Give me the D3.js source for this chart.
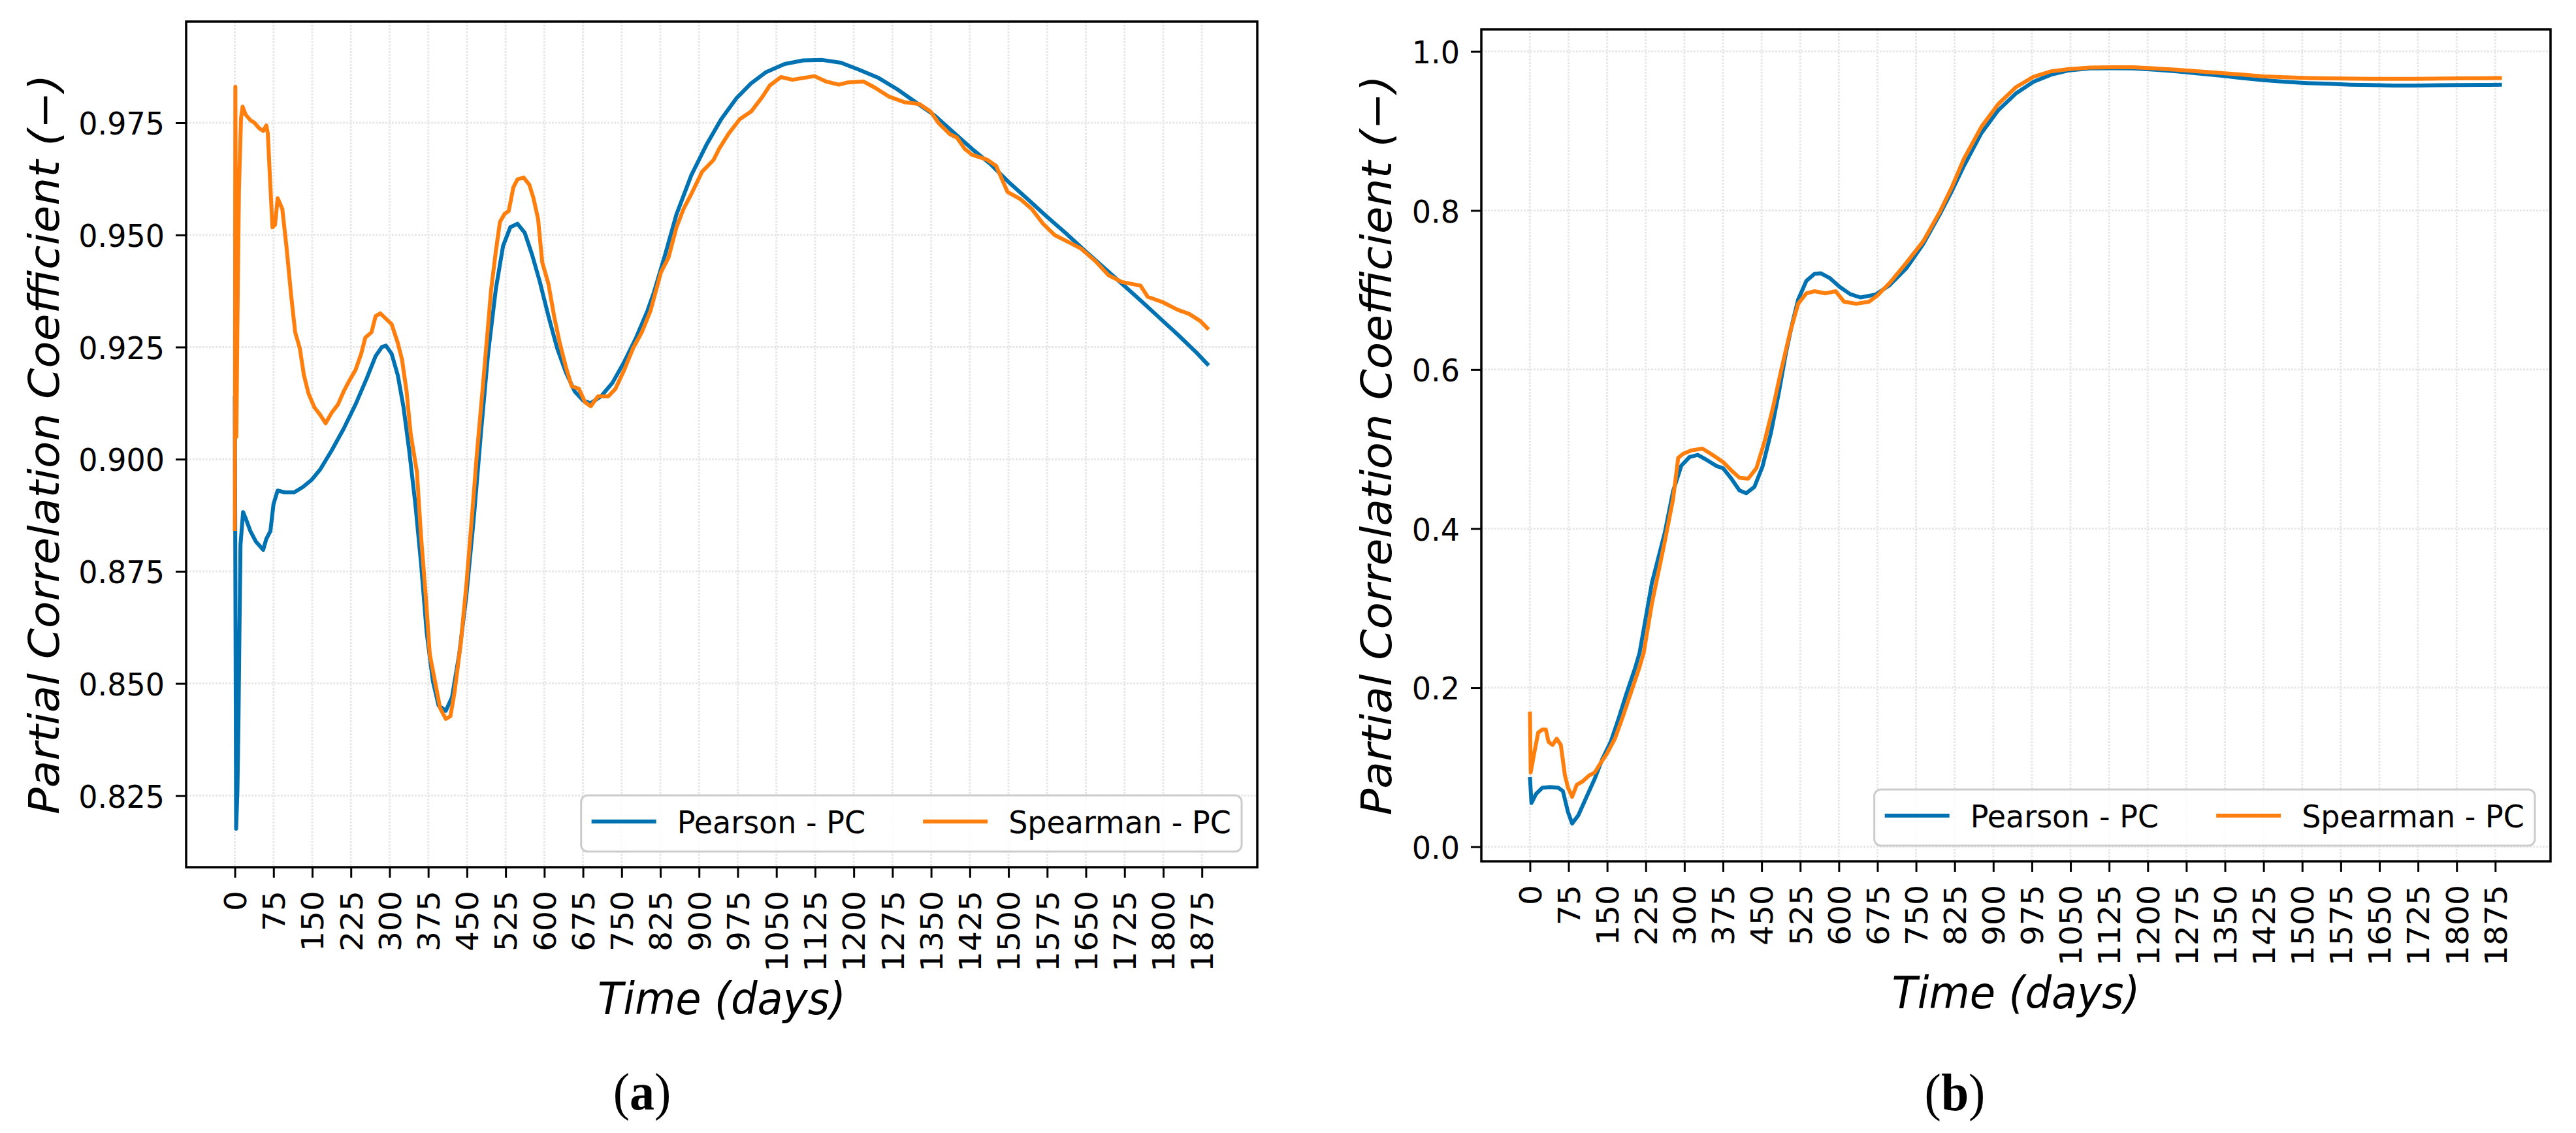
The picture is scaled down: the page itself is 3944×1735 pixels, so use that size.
<!DOCTYPE html>
<html>
<head>
<meta charset="utf-8">
<script src="https://cdn.jsdelivr.net/npm/d3@7"></script>
<style>
  html, body { margin: 0; padding: 0; background: #fff; }
  svg { display: block; }
</style>
</head>
<body>
<svg id="chart" width="3944" height="1735"></svg>
<script>
// ---- data: [day, coefficient] ----
const pearsonA = [
  [0, 0.914], [2.5, 0.8176], [5, 0.826], [7, 0.841], [9, 0.862], [11, 0.881], [16, 0.8882],
  [22, 0.8865], [30, 0.884], [41, 0.8816], [55, 0.8798], [61, 0.8822], [69, 0.884], [75, 0.890],
  [83, 0.893], [97, 0.8926], [115, 0.8926], [132, 0.8938], [149, 0.8954], [166, 0.8978],
  [188, 0.902], [211, 0.9068], [234, 0.9122], [256, 0.9181], [273, 0.923], [285, 0.925],
  [293, 0.9253], [304, 0.9235], [316, 0.9187], [327, 0.9116], [338, 0.902], [350, 0.890],
  [361, 0.8768], [372, 0.8613], [384, 0.8505], [395, 0.8451], [409, 0.8439], [421, 0.8469],
  [435, 0.8565], [449, 0.8697], [463, 0.8864], [477, 0.9056], [491, 0.9235], [506, 0.9379],
  [520, 0.9475], [534, 0.9517], [548, 0.9525], [562, 0.9505], [576, 0.9457], [591, 0.9397],
  [608, 0.9319], [625, 0.9247], [642, 0.9193], [659, 0.9151], [676, 0.913], [690, 0.9125],
  [710, 0.914], [732, 0.917], [755, 0.9217], [778, 0.9271], [800, 0.9331], [812, 0.937],
  [834, 0.9455], [856, 0.9545], [885, 0.9633], [914, 0.970], [943, 0.9758], [972, 0.9804],
  [1001, 0.9838], [1030, 0.9863], [1066, 0.9881], [1102, 0.9889], [1139, 0.989], [1175, 0.9884],
  [1211, 0.9868], [1248, 0.985], [1284, 0.9825], [1320, 0.9796], [1356, 0.9767], [1393, 0.9729],
  [1429, 0.9692], [1465, 0.9658], [1502, 0.9616], [1538, 0.9579], [1574, 0.9541], [1611, 0.9504],
  [1647, 0.9466], [1683, 0.9429], [1720, 0.9391], [1756, 0.9354], [1792, 0.9316], [1828, 0.9278],
  [1865, 0.9237], [1888, 0.9209]
]

const spearmanA = [
  [0, 0.884], [1, 0.983], [2, 0.95], [3, 0.905], [5, 0.93], [8, 0.96], [12, 0.976], [15, 0.9786],
  [21, 0.9768], [30, 0.9756], [38, 0.975], [47, 0.9738], [55, 0.9732], [61, 0.9744], [64, 0.9726],
  [69, 0.9606], [73, 0.9517], [78, 0.9523], [83, 0.9582], [92, 0.9558], [100, 0.9475], [109, 0.9367],
  [117, 0.9283], [126, 0.9247], [134, 0.9187], [143, 0.9146], [154, 0.9116], [166, 0.9098],
  [176, 0.908], [188, 0.9104], [200, 0.9122], [211, 0.9151], [222, 0.9175], [234, 0.9199],
  [245, 0.9235], [253, 0.9271], [265, 0.9283], [273, 0.9319], [282, 0.9325], [293, 0.9313],
  [304, 0.9301], [316, 0.9259], [324, 0.9223], [333, 0.9151], [341, 0.9056], [353, 0.8972],
  [361, 0.8828], [370, 0.8697], [378, 0.8565], [390, 0.8493], [398, 0.8445], [409, 0.8421],
  [418, 0.8427], [426, 0.8481], [438, 0.8589], [449, 0.8721], [460, 0.8876], [469, 0.9008],
  [480, 0.9151], [489, 0.9271], [497, 0.9379], [506, 0.9463], [514, 0.9529], [523, 0.9547],
  [531, 0.9553], [540, 0.9606], [548, 0.9624], [560, 0.9628], [571, 0.9612], [579, 0.9582],
  [588, 0.9535], [596, 0.9439], [608, 0.9391], [619, 0.9319], [630, 0.9259], [642, 0.9205],
  [653, 0.9163], [667, 0.9157], [679, 0.9127], [690, 0.9118], [704, 0.914], [724, 0.914],
  [738, 0.9157], [755, 0.9199], [772, 0.9247], [789, 0.9283], [806, 0.9331], [826, 0.9416],
  [841, 0.945], [856, 0.9516], [870, 0.9558], [885, 0.9591], [906, 0.9641], [928, 0.9667],
  [939, 0.9692], [957, 0.9725], [979, 0.9758], [1001, 0.9775], [1023, 0.9808], [1037, 0.9833],
  [1059, 0.9852], [1081, 0.9846], [1102, 0.985], [1124, 0.9854], [1146, 0.9842], [1171, 0.9835],
  [1189, 0.984], [1219, 0.9842], [1240, 0.9829], [1269, 0.9808], [1298, 0.9796], [1327, 0.9792],
  [1349, 0.9775], [1364, 0.975], [1386, 0.9725], [1400, 0.9717], [1415, 0.9692], [1429, 0.9679],
  [1458, 0.9668], [1476, 0.9654], [1487, 0.9625], [1498, 0.9596], [1524, 0.9579], [1545, 0.9558],
  [1567, 0.9525], [1589, 0.95], [1618, 0.9483], [1640, 0.947], [1669, 0.9441], [1694, 0.941],
  [1720, 0.9395], [1756, 0.9387], [1770, 0.9362], [1799, 0.935], [1828, 0.9333], [1850, 0.9324],
  [1872, 0.9308], [1888, 0.9289]
]

const pearsonB = [
  [0, 0.0877], [3, 0.055], [12, 0.0665], [24, 0.0742], [39, 0.075], [55, 0.0742], [64, 0.070],
  [74, 0.0435], [82, 0.0292], [94, 0.0396], [110, 0.0627], [126, 0.0858], [141, 0.1108],
  [157, 0.132], [173, 0.1627], [188, 0.1935], [204, 0.224], [213, 0.244], [237, 0.332],
  [262, 0.395], [278, 0.447], [294, 0.479], [310, 0.490], [326, 0.4927], [343, 0.4864],
  [363, 0.4785], [375, 0.476], [391, 0.463], [407, 0.448], [420, 0.4445], [436, 0.4524],
  [452, 0.4785], [468, 0.520], [484, 0.5728], [497, 0.62], [509, 0.6565], [521, 0.688],
  [537, 0.7115], [553, 0.7204], [565, 0.721], [582, 0.7152], [602, 0.7037], [622, 0.6948],
  [642, 0.6906], [671, 0.6942], [699, 0.7063], [731, 0.7272], [764, 0.758], [796, 0.795],
  [820, 0.825], [843, 0.856], [877, 0.8974], [910, 0.9262], [944, 0.9471], [978, 0.9618],
  [1012, 0.9707], [1045, 0.9759], [1087, 0.9785], [1130, 0.9788], [1172, 0.9785], [1214, 0.977],
  [1256, 0.9749], [1298, 0.9723], [1341, 0.9696], [1383, 0.9665], [1425, 0.9639], [1467, 0.9618],
  [1509, 0.9602], [1551, 0.9592], [1594, 0.9581], [1636, 0.9576], [1678, 0.9571], [1720, 0.9571],
  [1762, 0.9574], [1805, 0.9576], [1847, 0.9578], [1888, 0.9581]
]

const spearmanB = [
  [0, 0.170], [1.5, 0.0935], [8, 0.1165], [16, 0.1435], [24, 0.1473], [31, 0.1473], [36, 0.132],
  [44, 0.128], [52, 0.1358], [60, 0.128], [68, 0.0896], [74, 0.0742], [82, 0.0627], [91, 0.078],
  [102, 0.082], [115, 0.0896], [126, 0.0935], [137, 0.105], [149, 0.1165], [165, 0.1358],
  [180, 0.1627], [196, 0.1935], [212, 0.224], [221, 0.244], [237, 0.306], [262, 0.384],
  [278, 0.437], [288, 0.489], [298, 0.4942], [314, 0.4984], [335, 0.5005], [351, 0.4942],
  [363, 0.489], [375, 0.4838], [391, 0.4733], [407, 0.4639], [424, 0.4628], [440, 0.476],
  [456, 0.51], [472, 0.5518], [488, 0.599], [505, 0.646], [521, 0.6827], [537, 0.6958],
  [553, 0.6984], [574, 0.6958], [594, 0.6984], [610, 0.6853], [634, 0.6827], [659, 0.6853],
  [675, 0.6932], [699, 0.709], [731, 0.734], [764, 0.7613], [796, 0.798], [820, 0.83],
  [843, 0.865], [877, 0.9052], [910, 0.934], [944, 0.955], [978, 0.968], [1012, 0.9749],
  [1045, 0.9775], [1087, 0.9796], [1130, 0.9801], [1172, 0.9801], [1214, 0.9785], [1256, 0.977],
  [1298, 0.9749], [1341, 0.9728], [1383, 0.9707], [1425, 0.9686], [1467, 0.9675], [1509, 0.9665],
  [1551, 0.966], [1636, 0.9654], [1720, 0.9654], [1805, 0.966], [1888, 0.9665]
]

const xTicks = [0, 75, 150, 225, 300, 375, 450, 525, 600, 675, 750, 825, 900, 975, 1050,
  1125, 1200, 1275, 1350, 1425, 1500, 1575, 1650, 1725, 1800, 1875]
const yTicksA = [0.825, 0.850, 0.875, 0.900, 0.925, 0.950, 0.975]
const yTicksB = [0.0, 0.2, 0.4, 0.6, 0.8, 1.0]

const seriesNames = ['Pearson - PC', 'Spearman - PC']
const seriesColors = ['#0072b2', '#ff7f0e']

// ---- layout ----
const SY = 1.06            // the source picture is slightly stretched vertically
const FONT = 'DejaVu Sans, sans-serif'

const panels = [
  { box: {left: 285, right: 1925, top: 33, bottom: 1328}, series: [pearsonA, spearmanA],
    yTicks: yTicksA, yFmt: d3.format('.3f'), yLabelX: 90, xLabelY: 1553,
    tag: 'a', tagX: 983, tagY: 1699 },
  { box: {left: 2268, right: 3905, top: 45, bottom: 1319}, series: [pearsonB, spearmanB],
    yTicks: yTicksB, yFmt: d3.format('.1f'), yLabelX: 2130, xLabelY: 1544,
    tag: 'b', tagX: 2993, tagY: 1700 }
]

const svg = d3.select('#chart')

// matplotlib-like 5% padding on the data extent
const padded = ext => { const m = (ext[1] - ext[0]) * 0.05; return [ext[0] - m, ext[1] + m] }

function drawPanel(p) {
  const {left, right, top, bottom} = p.box
  const all = p.series.flat()
  const x = d3.scaleLinear().domain(padded(d3.extent(all, d => d[0]))).range([left, right])
  const y = d3.scaleLinear().domain(padded(d3.extent(all, d => d[1]))).range([bottom, top])

  const g = svg.append('g')

  // grid
  const grid = g.append('g')
    .attr('stroke', '#e8e8e8').attr('stroke-width', 3).attr('stroke-dasharray', '3,2')
  grid.selectAll('.gx').data(xTicks).join('line')
    .attr('x1', d => x(d)).attr('x2', d => x(d)).attr('y1', top).attr('y2', bottom)
  grid.selectAll('.gy').data(p.yTicks).join('line')
    .attr('x1', left).attr('x2', right).attr('y1', d => y(d)).attr('y2', d => y(d))

  // series
  const line = d3.line().x(d => x(d[0])).y(d => y(d[1]))
  g.selectAll('.series').data(p.series).join('path')
    .attr('class', 'series')
    .attr('d', line)
    .attr('fill', 'none')
    .attr('stroke', (d, i) => seriesColors[i])
    .attr('stroke-width', 6)
    .attr('stroke-linejoin', 'round')

  // x axis
  g.append('g')
    .attr('transform', `translate(0,${bottom})`)
    .call(d3.axisBottom(x).tickValues(xTicks).tickSize(16).tickFormat(d3.format('d')))
    .call(a => {
      a.select('.domain').remove()
      a.selectAll('.tick line').attr('stroke', '#000').attr('stroke-width', 3)
      a.selectAll('.tick text')
        .attr('x', 0).attr('y', 0).attr('dy', '0.365em')
        .attr('transform', `translate(0,36) scale(1,${SY}) rotate(-90)`)
        .attr('text-anchor', 'end')
        .attr('fill', '#000')
        .style('font-family', FONT).style('font-size', '46px')
    })

  // y axis
  g.append('g')
    .attr('transform', `translate(${left},0)`)
    .call(d3.axisLeft(y).tickValues(p.yTicks).tickSize(16).tickFormat(p.yFmt))
    .call(a => {
      a.select('.domain').remove()
      a.selectAll('.tick line').attr('stroke', '#000').attr('stroke-width', 3)
      a.selectAll('.tick text')
        .attr('x', 0).attr('dy', '0.365em')
        .attr('transform', `translate(-33,0) scale(1,${SY})`)
        .attr('text-anchor', 'end')
        .attr('fill', '#000')
        .style('font-family', FONT).style('font-size', '46px')
    })

  // frame
  g.append('rect')
    .attr('x', left).attr('y', top).attr('width', right - left).attr('height', bottom - top)
    .attr('fill', 'none').attr('stroke', '#000').attr('stroke-width', 3.5)

  // axis labels
  g.append('text')
    .attr('transform', `translate(${p.yLabelX},${(top + bottom) / 2}) scale(1,${SY}) rotate(-90)`)
    .attr('text-anchor', 'middle')
    .style('font-family', FONT).style('font-size', '64px').style('font-style', 'italic')
    .text('Partial Correlation Coefficient (\u2212)')

  g.append('text')
    .attr('transform', `translate(${(left + right) / 2},${p.xLabelY}) scale(1,${SY})`)
    .attr('text-anchor', 'middle')
    .style('font-family', FONT).style('font-size', '64px').style('font-style', 'italic')
    .text('Time (days)')

  // legend, lower right, two columns
  const lg = g.append('g')
  const texts = seriesNames.map(n => lg.append('text')
    .style('font-family', FONT).style('font-size', '46px').text(n))
  const widths = texts.map(t => t.node().getComputedTextLength())
  const pad = 16, handle = 99, hgap = 32, colgap = 88
  const boxW = pad * 2 + handle * 2 + hgap * 2 + colgap + widths[0] + widths[1]
  const boxH = 86
  const bx = right - 24 - boxW, by = bottom - 24 - boxH
  const rowY = by + 40

  lg.insert('rect', 'text')
    .attr('x', bx).attr('y', by).attr('width', boxW).attr('height', boxH)
    .attr('rx', 10).attr('ry', 10)
    .attr('fill', '#fff').attr('fill-opacity', 0.8)
    .attr('stroke', '#cccccc').attr('stroke-width', 3)

  let cx = bx + pad
  seriesNames.forEach((n, i) => {
    lg.append('line')
      .attr('x1', cx).attr('x2', cx + handle).attr('y1', rowY).attr('y2', rowY)
      .attr('stroke', seriesColors[i]).attr('stroke-width', 6)
    texts[i]
      .attr('transform', `translate(${cx + handle + hgap},${rowY}) scale(1,${SY})`)
      .attr('dy', '0.365em')
    cx += handle + hgap + widths[i] + colgap
  })

  // sub-figure tag
  const tag = svg.append('text')
    .attr('transform', `translate(${p.tagX},${p.tagY}) scale(1,${SY})`)
    .attr('text-anchor', 'middle')
    .style('font-family', 'Liberation Serif, serif').style('font-size', '76px')
  tag.append('tspan').text('(')
  tag.append('tspan').style('font-weight', 'bold').text(p.tag)
  tag.append('tspan').text(')')
}

panels.forEach(drawPanel)
</script>
</body>
</html>
